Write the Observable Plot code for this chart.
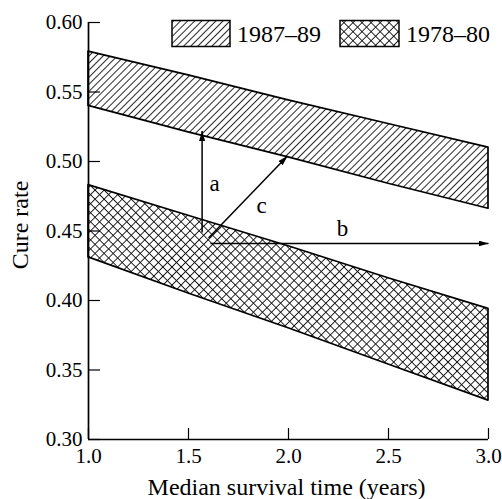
<!DOCTYPE html>
<html><head><meta charset="utf-8">
<script src="https://cdn.jsdelivr.net/npm/d3@7"></script>
<script src="https://cdn.jsdelivr.net/npm/@observablehq/plot@0.6"></script>
<style>
body{margin:0;background:#fff;}
#wrap{position:relative;width:502px;height:499px;}
#legend{position:absolute;left:0;top:0;}
</style></head><body>
<svg width="0" height="0" style="position:absolute">
<defs>
<pattern id="hatch" patternUnits="userSpaceOnUse" width="5" height="5" patternTransform="rotate(45)">
<line x1="2.5" y1="0" x2="2.5" y2="5" stroke="#111" stroke-width="0.9"/>
</pattern>
<pattern id="cross" patternUnits="userSpaceOnUse" width="6.4" height="6.4" patternTransform="rotate(45)">
<path d="M3.2,0V6.4M0,3.2H6.4" stroke="#111" stroke-width="0.9" fill="none"/>
</pattern>
<marker id="head" viewBox="0 0 10 6" refX="10" refY="3" markerWidth="10" markerHeight="6" markerUnits="userSpaceOnUse" orient="auto">
<path d="M0,0L10,3L0,6Z" fill="#000"/>
</marker>
</defs>
</svg>
<div id="wrap"></div>
<script>
// ---- data ----
const survival = [1.0, 1.5, 2.0, 2.5, 3.0];
const upper8789 = [0.579, 0.562, 0.544, 0.527, 0.510];
const lower8789 = [0.540, 0.521, 0.503, 0.484, 0.466];
const upper7880 = [0.483, 0.461, 0.439, 0.416, 0.394];
const lower7880 = [0.431, 0.405, 0.380, 0.354, 0.328];
const seriesNames = ["1987–89", "1978–80"];

const arrowLabels = ["a", "b", "c"];
const arrowX1 = [1.568, 1.61, 1.60];
const arrowY1 = [0.449, 0.441, 0.445];
const arrowX2 = [1.568, 3.0, 1.995];
const arrowY2 = [0.522, 0.441, 0.504];
const labelX = [1.63, 2.27, 1.865];
const labelY = [0.484, 0.452, 0.468];

const xTicks = [1.0, 1.5, 2.0, 2.5, 3.0];
const yTicks = [0.30, 0.35, 0.40, 0.45, 0.50, 0.55, 0.60];

const band8789 = survival.map((t, i) => ({t, lo: lower8789[i], hi: upper8789[i]}));
const band7880 = survival.map((t, i) => ({t, lo: lower7880[i], hi: upper7880[i]}));
const arrows = arrowLabels.map((label, i) => ({label, x1: arrowX1[i], y1: arrowY1[i], x2: arrowX2[i], y2: arrowY2[i], lx: labelX[i], ly: labelY[i]}));

const serif = "'Liberation Serif', 'Times New Roman', serif";

const plot = Plot.plot({
  width: 502, height: 499,
  marginLeft: 88, marginRight: 14, marginTop: 22, marginBottom: 60,
  x: {domain: [1, 3]},
  y: {domain: [0.3, 0.6]},
  style: {fontFamily: serif, fontSize: "21px", color: "#000", background: "#fff"},
  marks: [
    Plot.areaY(band8789, {x: "t", y1: "lo", y2: "hi", fill: "url(#hatch)", stroke: "#000", strokeWidth: 1.7}),
    Plot.areaY(band7880, {x: "t", y1: "lo", y2: "hi", fill: "url(#cross)", stroke: "#000", strokeWidth: 1.7}),
    Plot.ruleX([1], {y1: 0.3, y2: 0.6, stroke: "#000", strokeWidth: 1.7}),
    Plot.ruleY([0.3], {x1: 1, x2: 3, stroke: "#000", strokeWidth: 1.7}),
    Plot.axisX({ticks: xTicks, tickSize: -11, tickPadding: 20, tickFormat: d3.format(".1f"), label: null, strokeWidth: 1.2}),
    Plot.axisY({ticks: yTicks, tickSize: -12, tickPadding: 18, tickFormat: d3.format(".2f"), label: null, strokeWidth: 1.2}),
    Plot.link(arrows, {x1: "x1", y1: "y1", x2: "x2", y2: "y2", stroke: "#000", strokeWidth: 1.5, className: "arr"}),
    Plot.text(arrows, {x: "lx", y: "ly", text: "label", fontSize: 23, fill: "#000"}),
    Plot.text(["Median survival time (years)"], {frameAnchor: "bottom", lineAnchor: "middle", textAnchor: "middle", dy: 48, dx: -2, fontSize: 24, fill: "#000"}),
    Plot.text(["Cure rate"], {frameAnchor: "left", lineAnchor: "middle", textAnchor: "middle", dx: -68, dy: -6, rotate: -90, fontSize: 24, fill: "#000"})
  ]
});
d3.select(plot).selectAll(".arr path").attr("marker-end", "url(#head)");

const wrap = document.getElementById("wrap");
wrap.appendChild(plot);

// legend
const leg = d3.select(wrap).append("svg").attr("id", "legend").attr("width", 502).attr("height", 60);
const items = [
  {name: seriesNames[0], fill: "url(#hatch)", bx: 172, bw: 58, tx: 237},
  {name: seriesNames[1], fill: "url(#cross)", bx: 340, bw: 59, tx: 406}
];
for (const it of items) {
  leg.append("rect").attr("x", it.bx).attr("y", 20.5).attr("width", it.bw).attr("height", 26)
    .attr("fill", it.fill).attr("stroke", "#000").attr("stroke-width", 1.5);
  leg.append("text").attr("x", it.tx).attr("y", 42).attr("font-family", serif).attr("font-size", 24)
    .attr("fill", "#000").text(it.name);
}
</script>
</body></html>
